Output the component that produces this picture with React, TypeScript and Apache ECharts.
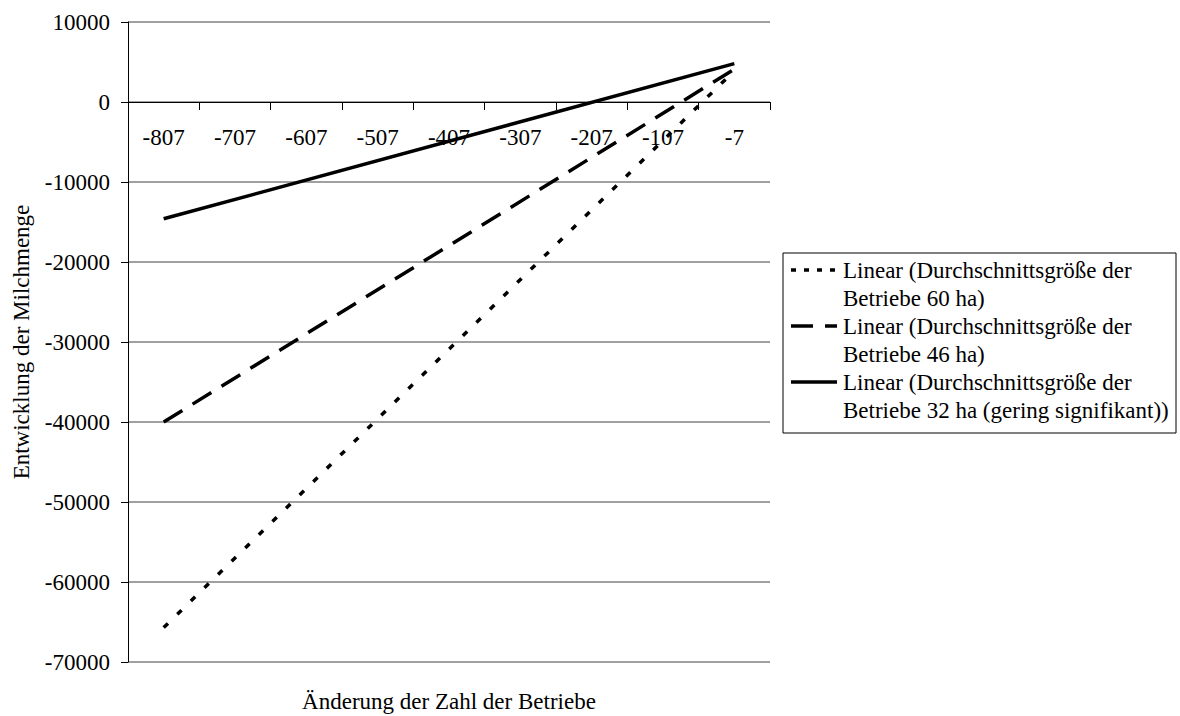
import React, { useEffect, useRef } from "react";
import * as echarts from "echarts";

const categories = ["-807", "-707", "-607", "-507", "-407", "-307", "-207", "-107", "-7"];
const yTicks = { min: -70000, max: 10000, interval: 10000 };

const seriesNames = [
  "Linear (Durchschnittsgröße der Betriebe 60 ha)",
  "Linear (Durchschnittsgröße der Betriebe 46 ha)",
  "Linear (Durchschnittsgröße der Betriebe 32 ha (gering signifikant))",
];
const legendLines = [
  ["Linear (Durchschnittsgröße der", "Betriebe 60 ha)"],
  ["Linear (Durchschnittsgröße der", "Betriebe 46 ha)"],
  ["Linear (Durchschnittsgröße der", "Betriebe 32 ha (gering signifikant))"],
];

// trend lines: only end points are read, the straight segment joins them
const values60 = [-65700, null, null, null, null, null, null, null, 3900];
const values46 = [-40000, null, null, null, null, null, null, null, 4100];
const values32 = [-14600, null, null, null, null, null, null, null, 4800];

const xTitle = "Änderung der Zahl der Betriebe";
const yTitle = "Entwicklung der Milchmenge";

const FONT = "'Liberation Serif', 'Times New Roman', serif";
const FS = 23;
const dashes: (number[] | "solid")[] = [[6, 13], [22, 12], "solid"];

export default function App() {
  const ref = useRef<HTMLDivElement>(null);
  useEffect(() => {
    if (!ref.current) return;
    const chart = echarts.init(ref.current, null, { renderer: "svg" });

    const legendX = 783;
    const legendY = 253;
    const legendW = 393;
    const legendH = 180;
    const legendElems: any[] = [
      {
        type: "rect",
        shape: { x: legendX, y: legendY, width: legendW, height: legendH },
        style: { fill: "#fff", stroke: "#000", lineWidth: 1 },
      },
    ];
    legendLines.forEach((lines, i) => {
      const cy = 270 + i * 56;
      const d = dashes[i];
      legendElems.push({
        type: "line",
        shape: { x1: 791, y1: cy, x2: 837, y2: cy },
        style: {
          stroke: "#000",
          lineWidth: 3.5,
          lineDash: d === "solid" ? null : i === 0 ? [5, 8] : [22, 12],
        },
      });
      lines.forEach((t, j) => {
        legendElems.push({
          type: "text",
          x: 843,
          y: cy + j * 28,
          style: {
            text: t,
            fontSize: FS,
            fontFamily: FONT,
            fill: "#000",
            align: "left",
            verticalAlign: "middle",
          },
        });
      });
    });

    const mk = (name: string, data: (number | null)[], i: number) => ({
      name,
      type: "line",
      data,
      connectNulls: true,
      symbol: "none",
      lineStyle: {
        color: "#000",
        width: 3.5,
        type: dashes[i],
        cap: "butt",
      },
    });

    chart.setOption({
      animation: false,
      backgroundColor: "#fff",
      textStyle: { fontFamily: FONT },
      grid: { left: 128, right: 410, top: 22, bottom: 54 },
      xAxis: {
        type: "category",
        data: categories,
        boundaryGap: true,
        position: "top",
        offset: -80,
        axisLine: { onZero: false, lineStyle: { color: "#000", width: 1 } },
        axisTick: { show: true, inside: true, length: 8, alignWithLabel: false, lineStyle: { color: "#000" } },
        axisLabel: { inside: true, color: "#000", fontSize: FS, fontFamily: FONT, margin: 24, interval: 0 },
        splitLine: { show: false },
      },
      yAxis: {
        type: "value",
        min: yTicks.min,
        max: yTicks.max,
        interval: yTicks.interval,
        name: yTitle,
        nameLocation: "middle",
        nameRotate: 90,
        nameGap: 95,
        nameTextStyle: { color: "#000", fontSize: FS, fontFamily: FONT },
        axisLine: { show: true, lineStyle: { color: "#000", width: 1 } },
        axisTick: { show: true, length: 7, lineStyle: { color: "#000" } },
        axisLabel: {
          color: "#000",
          fontSize: FS,
          fontFamily: FONT,
          margin: 18,
          formatter: (v: number) => String(v),
        },
        splitLine: { show: true, lineStyle: { color: "#808080", width: 1.5 } },
      },
      series: [
        mk(seriesNames[0], values60, 0),
        mk(seriesNames[1], values46, 1),
        mk(seriesNames[2], values32, 2),
      ],
      graphic: [
        {
          type: "text",
          x: 449,
          y: 701,
          style: {
            text: xTitle,
            fontSize: FS,
            fontFamily: FONT,
            fill: "#000",
            align: "center",
            verticalAlign: "middle",
          },
        },
        ...legendElems,
      ],
    });
    return () => chart.dispose();
  }, []);
  return (
    <div
      ref={ref}
      style={{ position: "fixed", left: 0, top: 0, width: 1180, height: 716, overflow: "hidden" }}
    />
  );
}
